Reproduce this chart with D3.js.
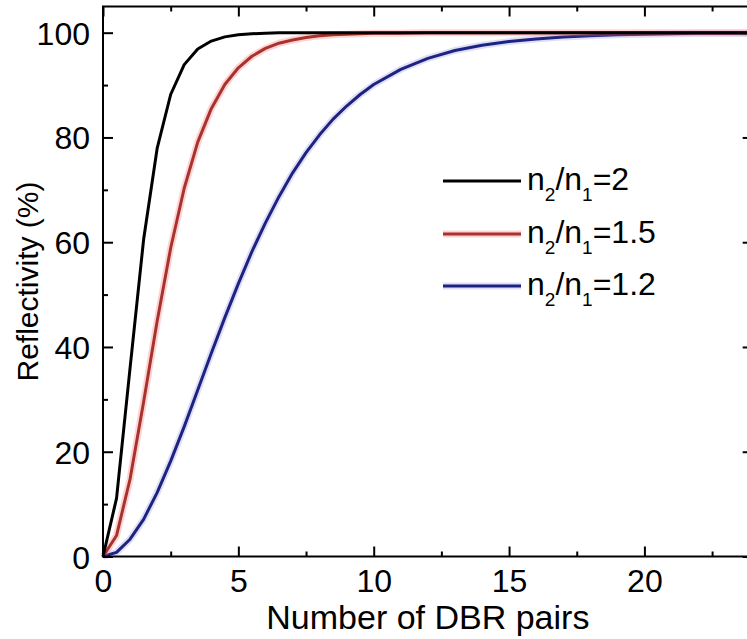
<!DOCTYPE html>
<html>
<head>
<meta charset="utf-8">
<script src="https://cdn.jsdelivr.net/npm/d3@7"></script>
<style>
  body { margin: 0; background: #fff; }
  svg { display: block; }
  text { font-family: Arial, "Liberation Sans", sans-serif; fill: #000; }
</style>
</head>
<body>
<svg id="chart" width="747" height="639"></svg>
<script>
// Number of DBR pairs (x values)
const pairs = [0, 0.5, 1, 1.5, 2, 2.5, 3, 3.5, 4, 4.5, 5, 5.5, 6, 6.5, 7, 7.5, 8, 8.5, 9, 9.5, 10,
               11, 12, 13, 14, 15, 16, 17, 18, 19, 20, 21, 22, 23, 24];

// Reflectivity (%) for each index ratio
const reflRatio2 = [0, 11.1, 36.0, 60.5, 77.9, 88.2, 93.9, 96.9, 98.4, 99.2, 99.6, 99.8, 99.9, 100, 100, 100, 100, 100, 100, 100, 100,
                    100, 100, 100, 100, 100, 100, 100, 100, 100, 100, 100, 100, 100, 100];
const reflRatio15 = [0, 4.0, 14.8, 29.5, 44.9, 58.9, 70.3, 79.1, 85.5, 90.1, 93.3, 95.5, 97.0, 98.0, 98.6, 99.1, 99.4, 99.6, 99.7, 99.8, 99.9,
                     99.9, 100, 100, 100, 100, 100, 100, 100, 100, 100, 100, 100, 100, 100];
const reflRatio12 = [0, 0.8, 3.3, 7.1, 12.2, 18.2, 24.8, 31.8, 38.8, 45.6, 52.1, 58.2, 63.7, 68.7, 73.2, 77.1, 80.5, 83.5, 86.0, 88.2, 90.1,
                     93.0, 95.1, 96.6, 97.6, 98.3, 98.8, 99.2, 99.4, 99.6, 99.7, 99.8, 99.9, 99.9, 99.9];

const ratioLabels = ["2", "1.5", "1.2"];

const xTicks = [0, 5, 10, 15, 20];
const xMinorTicks = [2.5, 7.5, 12.5, 17.5, 22.5];
const yTicks = [0, 20, 40, 60, 80, 100];
const yMinorTicks = [10, 30, 50, 70, 90];

const svg = d3.select("#chart");

const plotLeft = 103, plotRight = 752.7, plotTop = 6.5, plotBottom = 556.5;
const x = d3.scaleLinear().domain([0, 24]).range([plotLeft, plotRight]);
const y = d3.scaleLinear().domain([0, 105]).range([plotBottom, plotTop]);

const series = [
  { values: reflRatio2,  color: "#000000", halo: null },
  { values: reflRatio15, color: "#a8332e", halo: "rgba(255,110,110,0.30)" },
  { values: reflRatio12, color: "#1c2380", halo: "rgba(120,110,220,0.22)" }
];

const line = d3.line()
  .x((d, i) => x(pairs[i]))
  .y(d => y(d))
  .curve(d3.curveLinear);

// Curves (black drawn last so it sits on top)
const plot = svg.append("g");
series.slice().reverse().forEach(s => {
  if (s.halo) {
    plot.append("path").datum(s.values)
      .attr("d", line).attr("fill", "none")
      .attr("stroke", s.halo).attr("stroke-width", 7)
      .attr("stroke-linejoin", "round");
  }
  plot.append("path").datum(s.values)
    .attr("d", line).attr("fill", "none")
    .attr("stroke", s.color).attr("stroke-width", 3)
    .attr("stroke-linejoin", "round");
});

// Axes with inward ticks on all four sides
function styleAxis(g) {
  g.select(".domain").remove();
  g.selectAll(".tick line").attr("stroke", "#000").attr("stroke-width", 2);
}
const fontSize = 32;

const xBottom = svg.append("g").attr("transform", `translate(0,${plotBottom})`)
  .call(d3.axisBottom(x).tickValues(xTicks).tickSizeInner(-10).tickSizeOuter(0).tickFormat(d3.format("d")));
styleAxis(xBottom);
xBottom.selectAll(".tick text")
  .attr("y", 35).attr("dy", 0)
  .attr("font-size", fontSize).attr("font-family", "Arial, 'Liberation Sans', sans-serif").attr("fill", "#000");

const xBottomMinor = svg.append("g").attr("transform", `translate(0,${plotBottom})`)
  .call(d3.axisBottom(x).tickValues(xMinorTicks).tickSize(-5).tickFormat(""));
styleAxis(xBottomMinor);

const xTopAxis = svg.append("g").attr("transform", `translate(0,${plotTop})`)
  .call(d3.axisTop(x).tickValues(xTicks).tickSize(-10).tickFormat(""));
styleAxis(xTopAxis);
const xTopMinor = svg.append("g").attr("transform", `translate(0,${plotTop})`)
  .call(d3.axisTop(x).tickValues(xMinorTicks).tickSize(-5).tickFormat(""));
styleAxis(xTopMinor);

const yLeftAxis = svg.append("g").attr("transform", `translate(${plotLeft},0)`)
  .call(d3.axisLeft(y).tickValues(yTicks).tickSizeInner(-10).tickSizeOuter(0).tickFormat(d3.format("d")));
styleAxis(yLeftAxis);
yLeftAxis.selectAll(".tick text")
  .attr("x", -13).attr("dy", "0.36em")
  .attr("font-size", fontSize).attr("font-family", "Arial, 'Liberation Sans', sans-serif").attr("fill", "#000");

const yLeftMinor = svg.append("g").attr("transform", `translate(${plotLeft},0)`)
  .call(d3.axisLeft(y).tickValues(yMinorTicks).tickSize(-5).tickFormat(""));
styleAxis(yLeftMinor);

const yRightAxis = svg.append("g").attr("transform", `translate(${plotRight},0)`)
  .call(d3.axisRight(y).tickValues(yTicks).tickSize(-10).tickFormat(""));
styleAxis(yRightAxis);
const yRightMinor = svg.append("g").attr("transform", `translate(${plotRight},0)`)
  .call(d3.axisRight(y).tickValues(yMinorTicks).tickSize(-5).tickFormat(""));
styleAxis(yRightMinor);

// Frame
svg.append("rect")
  .attr("x", plotLeft).attr("y", plotTop)
  .attr("width", plotRight - plotLeft).attr("height", plotBottom - plotTop)
  .attr("fill", "none").attr("stroke", "#000").attr("stroke-width", 2);

// Axis titles
svg.append("text")
  .attr("x", (plotLeft + plotRight) / 2).attr("y", 629)
  .attr("text-anchor", "middle").attr("font-size", 34)
  .text("Number of DBR pairs");

svg.append("text")
  .attr("transform", `translate(38,${(plotTop + plotBottom) / 2}) rotate(-90)`)
  .attr("text-anchor", "middle").attr("font-size", 30)
  .text("Reflectivity (%)");

// Legend
const legend = svg.append("g");
const legendY = [181, 234, 286];
series.forEach((s, i) => {
  const ly = legendY[i];
  if (s.halo) {
    legend.append("line").attr("x1", 443).attr("x2", 521).attr("y1", ly).attr("y2", ly)
      .attr("stroke", s.halo).attr("stroke-width", 7);
  }
  legend.append("line").attr("x1", 443).attr("x2", 521).attr("y1", ly).attr("y2", ly)
    .attr("stroke", s.color).attr("stroke-width", 3);
  const t = legend.append("text").attr("x", 527).attr("y", ly + 9).attr("font-size", 32);
  t.append("tspan").text("n");
  t.append("tspan").attr("font-size", 19).attr("dy", 11).text("2");
  t.append("tspan").attr("dy", -11).text("/n");
  t.append("tspan").attr("font-size", 19).attr("dy", 11).text("1");
  t.append("tspan").attr("dy", -11).text("=" + ratioLabels[i]);
});
</script>
</body>
</html>
